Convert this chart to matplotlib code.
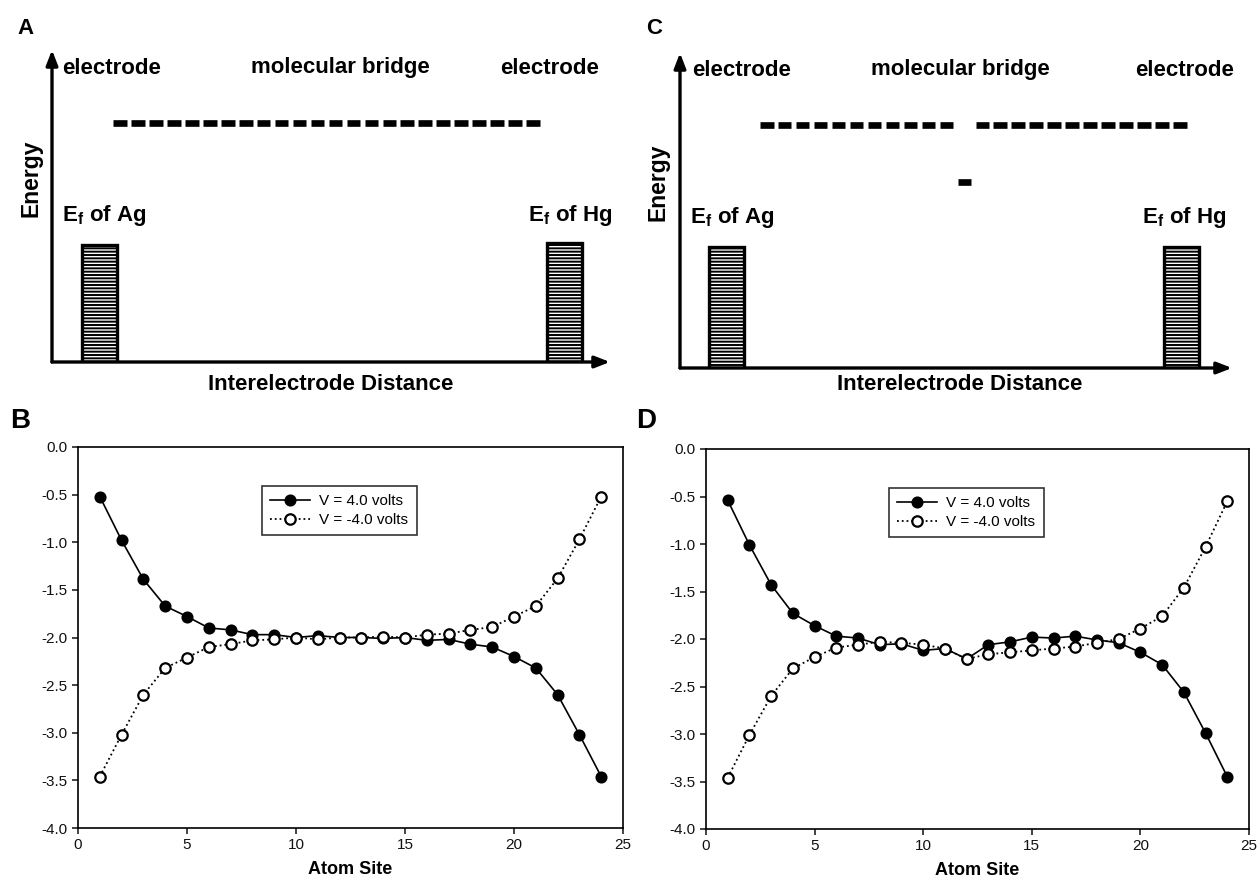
import numpy as np
import matplotlib
matplotlib.use("Agg")
import matplotlib.pyplot as plt

plt.rcParams['font.family'] = ['Liberation Sans', 'DejaVu Sans']
plt.rcParams['mathtext.fontset'] = 'custom'
plt.rcParams['mathtext.rm'] = 'Liberation Sans:bold'
plt.rcParams['mathtext.bf'] = 'Liberation Sans:bold'
plt.rcParams['hatch.linewidth'] = 1.4

# ---- data ----
atom_site = np.arange(1, 25)

# panel B (uniform bridge)
b_pos = [-0.52, -0.98, -1.39, -1.67, -1.78, -1.90, -1.92, -1.97, -1.97, -2.00,
         -1.98, -2.00, -2.00, -2.01, -2.00, -2.03, -2.02, -2.07, -2.10, -2.20,
         -2.32, -2.60, -3.02, -3.46]
b_neg = [-3.46, -3.02, -2.60, -2.32, -2.21, -2.10, -2.07, -2.03, -2.02, -2.00,
         -2.02, -2.00, -2.00, -1.99, -2.00, -1.97, -1.96, -1.92, -1.89, -1.78,
         -1.67, -1.38, -0.97, -0.52]

# panel D (bridge with a defect site)
d_pos = [-0.54, -1.01, -1.43, -1.73, -1.86, -1.97, -1.99, -2.06, -2.05, -2.12,
         -2.10, -2.21, -2.06, -2.03, -1.98, -1.99, -1.97, -2.01, -2.04, -2.14,
         -2.27, -2.56, -2.99, -3.45]
d_neg = [-3.46, -3.01, -2.60, -2.31, -2.19, -2.09, -2.06, -2.03, -2.04, -2.06,
         -2.10, -2.21, -2.16, -2.14, -2.12, -2.10, -2.08, -2.04, -2.00, -1.89,
         -1.76, -1.46, -1.03, -0.55]

# schematic energy levels (0 = bottom of axis, 1 = top)
levels_A = [0.766, 0.766, 0.766, 0.766, 0.766, 0.766, 0.766, 0.766, 0.766, 0.766,
            0.766, 0.766, 0.766, 0.766, 0.766, 0.766, 0.766, 0.766, 0.766, 0.766,
            0.766, 0.766, 0.766, 0.766]
levels_C = [0.770, 0.770, 0.770, 0.770, 0.770, 0.770, 0.770, 0.770, 0.770, 0.770,
            0.770, 0.590, 0.770, 0.770, 0.770, 0.770, 0.770, 0.770, 0.770, 0.770,
            0.770, 0.770, 0.770, 0.770]
fermi_A = [0.375, 0.381]
fermi_C = [0.384, 0.384]

W, H = 1259, 884
fig = plt.figure(figsize=(W / 100, H / 100), dpi=100)


def box(x0, y0, x1, y1):
    # pixel box -> figure fraction
    return [x0 / W, 1 - y1 / H, (x1 - x0) / W, (y1 - y0) / H]


def schematic(levels, fermi, site1_px, site24_px, bars_px, ax_px):
    x0, y0, x1, y1 = ax_px
    ax = fig.add_axes(box(x0, y0, x1, y1))
    step = (site24_px - site1_px) / 23
    xl = 1 - (site1_px - x0) / step
    xr = 24 + (x1 - site24_px) / step
    ax.set_xlim(xl, xr)
    ax.set_ylim(0, 1)
    for s in ax.spines.values():
        s.set_visible(False)
    ax.set_xticks([])
    ax.set_yticks([])
    ax.patch.set_alpha(0)

    # molecular levels
    ax.hlines(levels, atom_site - 0.38, atom_site + 0.38, color='k',
              linewidth=4.8, capstyle='butt')

    # electrode Fermi levels
    bw = (bars_px[0][1] - bars_px[0][0]) / step
    bx = [xl + ((b[0] + b[1]) / 2 - x0) / step for b in bars_px]
    ax.bar(bx, fermi, width=bw, color='white', edgecolor='k',
           linewidth=2.4, hatch='-----', zorder=2)

    # axes arrows
    ap = dict(arrowstyle='-|>,head_length=0.9,head_width=0.35', color='k',
              lw=2.4, shrinkA=0, shrinkB=0)
    ax.annotate('', xy=(1, 0), xytext=(0, 0), xycoords='axes fraction',
                arrowprops=ap, zorder=3)
    ax.annotate('', xy=(0, 1), xytext=(0, 0), xycoords='axes fraction',
                arrowprops=ap, zorder=3)
    return ax


def label(x, y, s, size=16, **kw):
    fig.text(x / W, 1 - y / H, s, fontsize=size, fontweight='bold',
             ha=kw.pop('ha', 'center'), va=kw.pop('va', 'center'), **kw)


# ---- panel A ----
schematic(levels_A, fermi_A, 120, 533, [(82, 117), (546, 582)],
          (52, 50, 610, 362))
label(26, 28, 'A', size=16)
label(62, 68, 'electrode', ha='left')
label(340, 68, 'molecular bridge')
label(599, 68, 'electrode', ha='right')
label(31, 178, 'Energy', rotation=90, size=16.5)
label(62, 215, r'E$_\mathbf{f}$ of Ag', ha='left')
label(612, 215, r'E$_\mathbf{f}$ of Hg', ha='right')
label(331, 385, 'Interelectrode Distance')

# ---- panel C ----
schematic(levels_C, fermi_C, 766.7, 1180, [(709, 744), (1164, 1199)],
          (680, 53, 1232, 368))
label(654, 28, 'C', size=16)
label(692, 70, 'electrode', ha='left')
label(960, 70, 'molecular bridge')
label(1234, 70, 'electrode', ha='right')
label(658, 182, 'Energy', rotation=90, size=16.5)
label(690, 217, r'E$_\mathbf{f}$ of Ag', ha='left')
label(1226, 217, r'E$_\mathbf{f}$ of Hg', ha='right')
label(960, 385, 'Interelectrode Distance')


# ---- panels B and D ----
def profile(ax_px, pos, neg, leg_xy):
    ax = fig.add_axes(box(*ax_px))
    ax.plot(atom_site, pos, '-', color='k', lw=1.2, marker='o', ms=7.5,
            mfc='k', mec='k', mew=1.2, label='V = 4.0 volts', zorder=3)
    ax.plot(atom_site, neg, ':', color='k', lw=1.3, marker='o', ms=7.5,
            mfc='white', mec='k', mew=1.6, label='V = -4.0 volts', zorder=4)
    ax.set_xlim(0, 25)
    ax.set_ylim(-4, 0)
    ax.set_xticks([0, 5, 10, 15, 20, 25])
    ax.set_yticks(np.arange(-4, 0.01, 0.5))
    ax.yaxis.set_major_formatter(plt.FormatStrFormatter('%.1f'))
    ax.tick_params(direction='out', length=4, width=1.1, labelsize=11,
                   colors='#111111')
    for s in ax.spines.values():
        s.set_linewidth(1.2)
    ax.set_xlabel('Atom Site', fontsize=13, fontweight='bold', labelpad=6)
    x0, y0, x1, y1 = ax_px
    lg = ax.legend(loc='upper left',
                   bbox_to_anchor=((leg_xy[0] - x0) / (x1 - x0),
                                   (y1 - leg_xy[1]) / (y1 - y0)),
                   fontsize=11, frameon=True, fancybox=False,
                   edgecolor='k', handlelength=2.6, borderpad=0.55,
                   labelspacing=0.3, handletextpad=0.6, borderaxespad=0)
    lg.get_frame().set_linewidth(1.2)
    return ax


profile((78, 447, 623, 828), b_pos, b_neg, (262, 486))
label(20, 421, 'B', size=20)
profile((706, 449, 1249, 829), d_pos, d_neg, (889, 488))
label(646, 421, 'D', size=20)

fig.savefig('out.png', dpi=100)
